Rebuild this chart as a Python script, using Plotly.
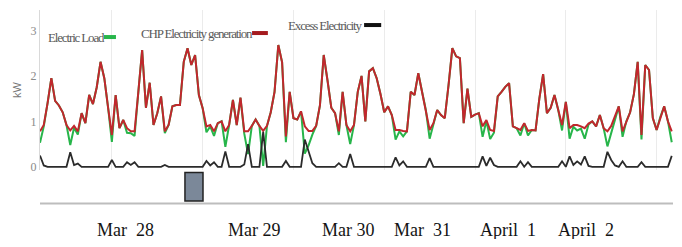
import pandas as pd
import plotly.graph_objects as go

# ---- data (hourly) ----
start_time = "2015-03-27 05:00"
n_hours = 168

chp_generation = [
    .78, .92, 1.40, 1.95, 1.45, 1.35, 1.20, .92, .80, .90, .78, 1.18,
    .96, 1.58, 1.38, 1.75, 2.31, 1.95, 1.30, .70, 1.58, .85, 1.03, .85,
    .78, .78, 1.65, 2.57, 1.30, 1.85, .92, 1.18, 1.55, .78, .92, 1.33,
    1.36, 1.36, 2.31, 2.61, 2.24, 2.46, 1.58, 1.29, .89, .92, .78, .96,
    1.00, .78, .92, 1.47, .92, 1.52, .78, .78, .90, 1.04, .90, .79,
    .90, 1.20, 1.65, 2.68, 2.30, .67, 1.65, 1.07, 1.04, 1.22, .89, .79,
    .79, .90, 1.35, 2.46, 1.90, 1.30, 1.18, .78, 1.65, .92, .78, .92,
    1.65, 2.00, 1.00, 2.10, 2.17, 1.95, 1.60, 1.20, 1.33, 1.14, .81, .81,
    .79, .78, 1.65, 1.58, 2.06, 1.65, 1.25, .81, .96, 1.25, 1.14, 1.07,
    1.80, 2.61, 2.43, 2.39, .96, 1.72, 1.10, 1.15, 1.18, .89, 1.03, .81,
    .79, 1.55, 1.65, 1.76, 1.84, .89, .85, .81, .96, .79, .81, .80,
    1.50, 2.04, 1.18, 1.30, 1.58, 1.25, .92, 1.43, .85, .92, .92, .89,
    .85, .95, 1.00, .89, 1.14, .85, .78, .90, 1.10, 1.33, .78, 1.00,
    1.20, 1.60, 2.31, .70, 2.24, 2.13, 1.07, .81, 1.10, 1.33, 1.00, .78,
]

electric_load = [
    .53, .89, 1.40, 1.95, 1.45, 1.35, 1.20, .92, .48, .86, .71, 1.18,
    .96, 1.58, 1.38, 1.75, 2.31, 1.95, 1.30, .55, 1.58, .85, 1.03, .75,
    .74, .68, 1.65, 2.57, 1.30, 1.85, .92, 1.18, 1.55, .74, .92, 1.33,
    1.36, 1.36, 2.31, 2.61, 2.24, 2.46, 1.58, 1.29, .76, .89, .68, .96,
    1.00, .44, .92, 1.47, .92, 1.52, .73, .28, .90, 1.04, .90, .02,
    .90, 1.20, 1.65, 2.68, 2.30, .54, 1.65, 1.07, 1.04, 1.22, .29, .47,
    .71, .90, 1.35, 2.46, 1.90, 1.30, 1.18, .70, 1.65, .92, .50, .92,
    1.65, 2.00, 1.00, 2.10, 2.17, 1.95, 1.60, 1.20, 1.33, 1.14, .60, .78,
    .67, .78, 1.65, 1.58, 2.06, 1.65, 1.25, .62, .96, 1.25, 1.14, 1.07,
    1.80, 2.61, 2.43, 2.39, .96, 1.72, 1.10, 1.15, 1.18, .66, 1.01, .61,
    .75, 1.55, 1.65, 1.76, 1.84, .89, .85, .69, .96, .69, .81, .80,
    1.50, 2.04, 1.18, 1.30, 1.58, 1.25, .80, 1.43, .62, .88, .80, .84,
    .62, .93, 1.00, .89, 1.14, .85, .45, .75, 1.07, 1.33, .66, 1.00,
    1.20, 1.60, 2.31, .60, 2.24, 2.13, 1.07, .81, 1.10, 1.33, 1.00, .54,
]

excess_electricity = [
    .25, .03, 0, 0, 0, 0, 0, 0, .32, .04, .07, 0,
    0, 0, 0, 0, 0, 0, 0, .15, 0, 0, 0, .10,
    .04, .10, 0, 0, 0, 0, 0, 0, 0, .04, 0, 0,
    0, 0, 0, 0, 0, 0, 0, 0, .13, .03, .10, 0,
    0, .34, 0, 0, 0, 0, .05, .50, 0, 0, 0, .77,
    0, 0, 0, 0, 0, .13, 0, 0, 0, 0, .60, .32,
    .08, 0, 0, 0, 0, 0, 0, .08, 0, 0, .28, 0,
    0, 0, 0, 0, 0, 0, 0, 0, 0, 0, .21, .03,
    .12, 0, 0, 0, 0, 0, 0, .19, 0, 0, 0, 0,
    0, 0, 0, 0, 0, 0, 0, 0, 0, .23, .02, .20,
    .04, 0, 0, 0, 0, 0, 0, .12, 0, .10, 0, 0,
    0, 0, 0, 0, 0, 0, .12, 0, .23, .04, .12, .05,
    .23, .02, 0, 0, 0, 0, .33, .15, .03, 0, .12, 0,
    0, 0, 0, .10, 0, 0, 0, 0, 0, 0, 0, .24,
]

tick_times = ["2015-03-28 03:30", "2015-03-29 13:40", "2015-03-30 14:35",
              "2015-03-31 10:10", "2015-04-01 08:45", "2015-04-02 05:20"]
tick_labels = ["Mar  28", "Mar 29", "Mar 30", "Mar  31", "April  1", "April  2"]

series_names = ["Electric Load", "CHP Electricity generation", "Excess Electricity"]
y_ticks = [0, 1, 2, 3]

# ---- figure ----
times = pd.date_range(start_time, periods=n_hours, freq="h")
GREEN, RED, BLACK = "#27b54a", "#c1272d", "#2b2b2b"

fig = go.Figure()
fig.add_trace(go.Scatter(x=times, y=electric_load, mode="lines", name=series_names[0],
                         line=dict(color=GREEN, width=2)))
fig.add_trace(go.Scatter(x=times, y=chp_generation, mode="lines", name=series_names[1],
                         line=dict(color=RED, width=2)))
fig.add_trace(go.Scatter(x=times, y=excess_electricity, mode="lines", name=series_names[2],
                         line=dict(color=BLACK, width=1.8)))

x_end = times[-1] + pd.Timedelta(minutes=20)
# page body adds an 8px margin, so the figure is 16px smaller than the window
fig.update_layout(
    width=666, height=231,
    margin=dict(l=32, r=1, t=2, b=69),
    plot_bgcolor="white", paper_bgcolor="white",
    showlegend=False,
    xaxis=dict(type="date", range=[times[0], x_end],
               showgrid=True, gridcolor="#ebebeb", gridwidth=1,
               tick0="2015-03-28", dtick=86400000,
               showticklabels=False, ticks="", zeroline=False, showline=False),
    yaxis=dict(range=[-0.07, 3.45], tickvals=y_ticks, showgrid=False, zeroline=False,
               showline=True, linecolor="#d9d9d9", linewidth=1, ticks="",
               tickfont=dict(family="Liberation Serif", size=12, color="#8a8a8a"),
               title=dict(text="kW", standoff=6,
                          font=dict(family="Liberation Sans", size=11, color="#777"))),
)

# date labels
for t, lab in zip(tick_times, tick_labels):
    fig.add_annotation(x=t, xref="x", y=-0.372, yref="paper", text=lab, showarrow=False,
                       xanchor="center", yanchor="middle",
                       font=dict(family="Liberation Serif", size=18, color="#141414"))

# legend (text followed by swatch)
legend_font = dict(family="Liberation Serif", size=13, color="#5a5a5a")
leg = [(0.0095, 0.831, 0.101, 0.120, GREEN),
       (0.156, 0.856, 0.335, 0.360, "#a51b1f"),
       (0.389, 0.906, 0.512, 0.539, "#111")]
for name, (tx, ty, sx0, sx1, col) in zip(series_names, leg):
    fig.add_annotation(x=tx, y=ty, xref="paper", yref="paper",
                       text="<span style='letter-spacing:-1.15px'>" + name + "</span>",
                       showarrow=False, xanchor="left", yanchor="middle", font=legend_font)
    fig.add_shape(type="line", xref="paper", yref="paper", x0=sx0, x1=sx1, y0=ty, y1=ty,
                  line=dict(color=col, width=4))

# navigator look-alike
fig.add_shape(type="line", xref="paper", yref="paper", x0=0, x1=1, y0=-0.21, y1=-0.21,
              line=dict(color="#bdbdbd", width=2))
fig.add_shape(type="rect", xref="paper", yref="paper", x0=0.229, x1=0.2575, y0=-0.194, y1=-0.015,
              fillcolor="#7b8899", line=dict(color="#222", width=1.5))

fig.write_html("out.html")
